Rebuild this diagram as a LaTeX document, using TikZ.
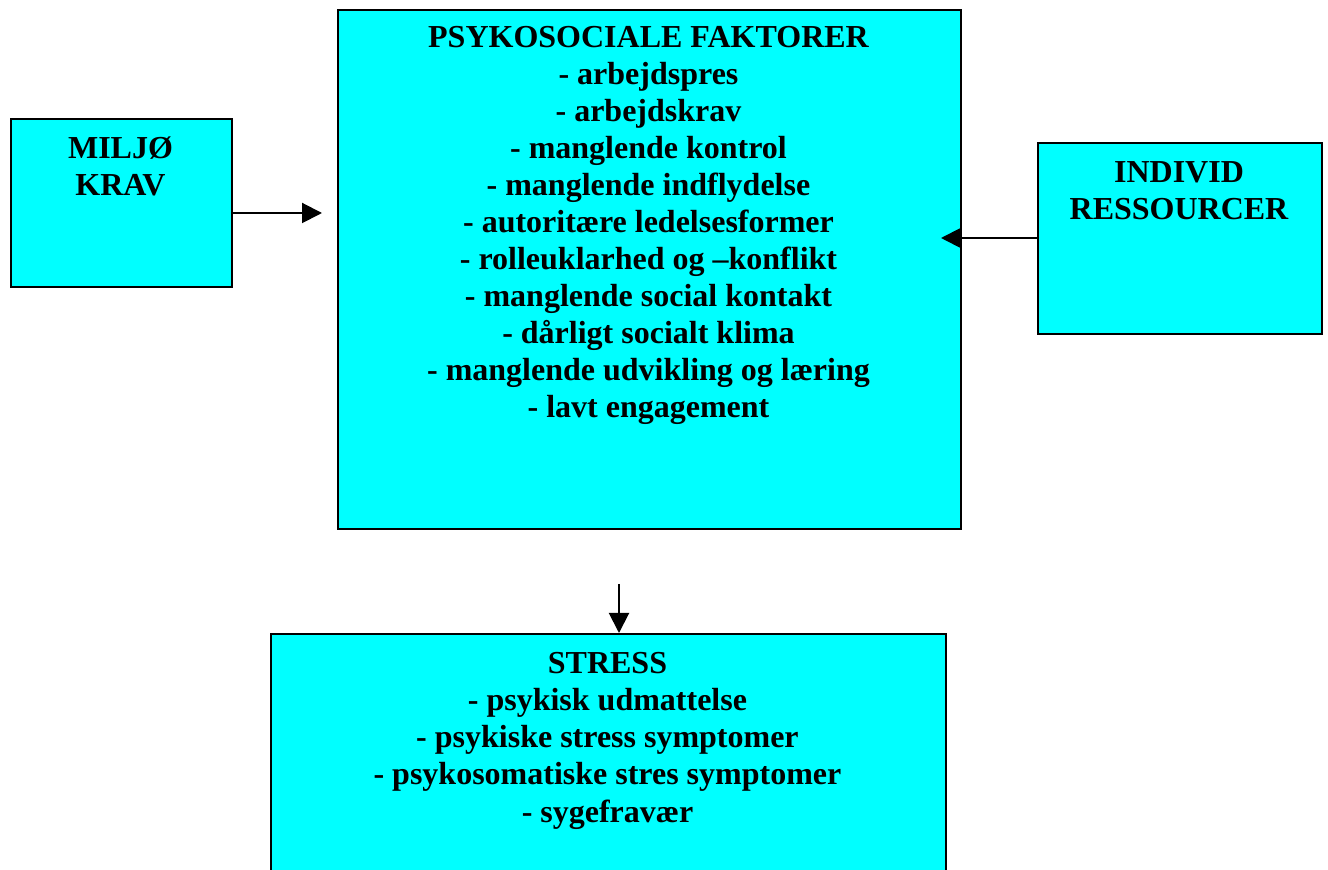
\documentclass[tikz,border=0pt]{standalone}
\usepackage{fontspec}
\setmainfont{Liberation Serif}
\usetikzlibrary{arrows.meta}
\definecolor{boxcyan}{RGB}{0,255,255}
\begin{document}
\begin{tikzpicture}[x=0.5pt,y=-0.5pt,
  box/.style={draw=black,line width=1pt,fill=boxcyan,inner sep=0pt,anchor=north west},
  label/.style={anchor=base,align=center,inner sep=0pt,
    font=\fontsize{16}{18.5}\selectfont\bfseries},
  arr/.style={line width=1pt,-{Triangle[length=10pt,width=10pt]}}]
\useasboundingbox (0,0) rectangle (1328,870);
\clip (0,0) rectangle (1328,870);
% boxes (sizes in pixels, halved to points)
\node[box,minimum width=221*0.5pt,minimum height=168*0.5pt] (miljo) at (10,118) {};
\node[box,minimum width=623*0.5pt,minimum height=519*0.5pt] (psyko) at (337,9) {};
\node[box,minimum width=284*0.5pt,minimum height=191*0.5pt] (indiv) at (1037,142) {};
\node[box,minimum width=675*0.5pt,minimum height=260*0.5pt] (stress) at (270,633) {};
% texts, placed at the baseline of their last line
\node[label] (tmiljo) at (120.5,196) {MILJØ\\KRAV};
\node[label] (tpsyko) at (648.5,418) {PSYKOSOCIALE FAKTORER\\
- arbejdspres\\
- arbejdskrav\\
- manglende kontrol\\
- manglende indflydelse\\
- autoritære ledelsesformer\\
- rolleuklarhed og –konflikt\\
- manglende social kontakt\\
- dårligt socialt klima\\
- manglende udvikling og læring\\
- lavt engagement};
\node[label] (tindiv) at (1179,220) {INDIVID\\RESSOURCER};
\node[label] (tstress) at (607.5,822) {STRESS\\
- psykisk udmattelse\\
- psykiske stress symptomer\\
- psykosomatiske stres symptomer\\
- sygefravær};
% connectors
\coordinate (ya) at (0,213);
\coordinate (yb) at (0,238);
\coordinate (top) at (619,584);
\draw[arr,shorten >=7.5pt] (miljo.east |- ya) -- (psyko.west |- ya);
\draw[arr,shorten >=-10.5pt] (indiv.west |- yb) -- (psyko.east |- yb);
\draw[arr] (top) -- (top |- stress.north);
\end{tikzpicture}
\end{document}
